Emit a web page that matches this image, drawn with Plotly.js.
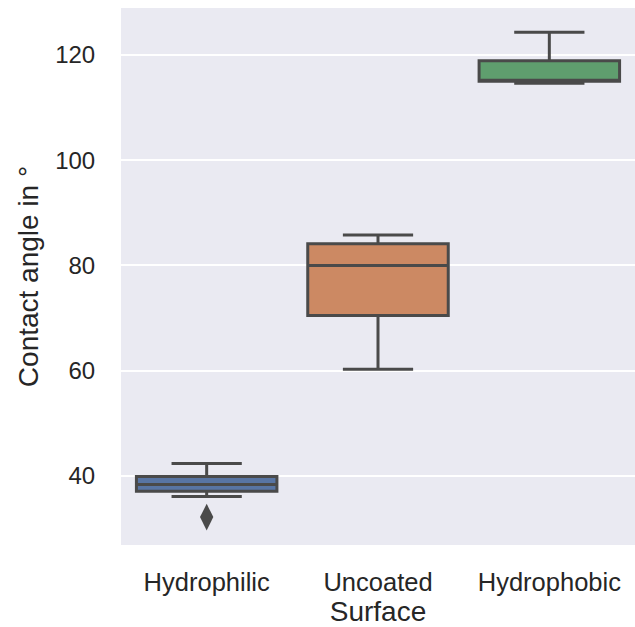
<!DOCTYPE html>
<html>
<head>
<meta charset="utf-8">
<script src="https://cdn.plot.ly/plotly-3.0.1.min.js"></script>
<style>html,body{margin:0;padding:0;background:#fff;}#chart{width:635px;height:627px;}</style>
</head>
<body>
<div id="chart"></div>
<script>
const categories = ["Hydrophilic", "Uncoated", "Hydrophobic"];
const lowerFence = [36.1, 60.3, 114.6];
const q1 = [37.1, 70.5, 115.0];
const medians = [38.4, 80.0, 115.0];
const q3 = [39.9, 84.1, 118.9];
const upperFence = [42.4, 85.8, 124.3];
const outlierCats = ["Hydrophilic"];
const outlierVals = [32.2];
const fillColors = ["#5875a4", "#cc8963", "#5f9e6e"];
const lineColor = "#4a4a4a";

const traces = categories.map((c, i) => ({
  type: "box",
  x: [c],
  q1: [q1[i]],
  median: [medians[i]],
  q3: [q3[i]],
  lowerfence: [lowerFence[i]],
  upperfence: [upperFence[i]],
  width: 0.82,
  fillcolor: fillColors[i],
  line: {color: lineColor, width: 3},
  whiskerwidth: 0.5,
  boxpoints: false,
  hoverinfo: "skip",
  showlegend: false
}));
traces.push({
  type: "scatter",
  mode: "markers",
  x: outlierCats,
  y: outlierVals,
  marker: {symbol: "diamond-tall", size: 19, color: lineColor},
  showlegend: false,
  hoverinfo: "skip"
});

const layout = {
  width: 635,
  height: 627,
  margin: {l: 121, r: 0, t: 8, b: 82},
  paper_bgcolor: "#ffffff",
  plot_bgcolor: "#eaeaf2",
  font: {family: "Liberation Sans, Arial, sans-serif", color: "#262626", size: 24},
  boxmode: "overlay",
  xaxis: {
    type: "category",
    categoryorder: "array",
    categoryarray: categories,
    range: [-0.5, 2.5],
    showgrid: false,
    zeroline: false,
    showline: false,
    ticks: "outside",
    ticklen: 14,
    tickcolor: "rgba(0,0,0,0)",
    tickfont: {size: 25.5},
    title: {text: "Surface", font: {size: 28}, standoff: 12}
  },
  yaxis: {
    range: [26.9, 128.9],
    tickvals: [40, 60, 80, 100, 120],
    showgrid: true,
    gridcolor: "#ffffff",
    gridwidth: 2,
    zeroline: false,
    showline: false,
    ticks: "outside",
    ticklen: 20,
    tickcolor: "rgba(0,0,0,0)",
    tickfont: {size: 24},
    title: {text: "Contact angle in °", font: {size: 28}, standoff: 8}
  }
};

Plotly.newPlot("chart", traces, layout, {displayModeBar: false, staticPlot: true});
</script>
</body>
</html>
